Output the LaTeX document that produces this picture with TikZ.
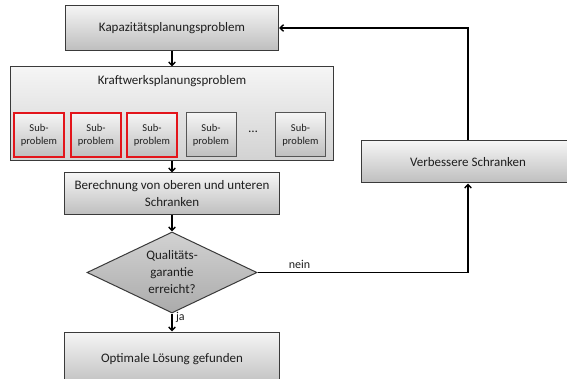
\documentclass[tikz,border=0pt]{standalone}
\usepackage{fontspec}
\setmainfont{Carlito}
\usetikzlibrary{arrows.meta}
\usetikzlibrary{shapes.geometric}
\definecolor{ln}{HTML}{3A3A3A}
\definecolor{sl}{HTML}{555555}
\definecolor{rd}{HTML}{E3151B}
\definecolor{tp}{HTML}{F5F5F5}
\definecolor{bt}{HTML}{BEBEBE}
\definecolor{lt}{HTML}{D2D2D2}
\definecolor{tx}{HTML}{1E1E1E}

\tikzset{
  box/.style={draw=ln, line width=1pt, top color=tp, bottom color=bt, text=tx, align=center, inner sep=2pt, font=\fontsize{13}{17}\selectfont},
  subbox/.style={draw=sl, line width=1pt, top color=tp, bottom color=bt, text=tx, align=center, minimum width=50, minimum height=44, inner sep=1pt, font=\fontsize{10.5}{13}\selectfont},
  redbox/.style={subbox, draw=rd, line width=1.3pt},
  flow/.style={draw=black, line width=1.4pt, -{Straight Barb[length=3.5pt,width=6.5pt]}}
}

\begin{document}
\begin{tikzpicture}[x=1pt, y=-1pt]
  \useasboundingbox (0,0) rectangle (567,379);

  \node[box, minimum width=213, minimum height=45] (kap) at (172,28) {Kapazitätsplanungsproblem};

  \node[box, top color=tp, bottom color=lt, minimum width=323, minimum height=94] (kw) at (172,114) {};
  \node[text=tx, font=\fontsize{13}{17}\selectfont] (kwt) at (172,81) {Kraftwerksplanungsproblem};
  \node[redbox] (s1) at (39,135) {Sub-\\problem};
  \node[redbox] (s2) at (96,135) {Sub-\\problem};
  \node[redbox] (s3) at (152,135) {Sub-\\problem};
  \node[subbox] (s4) at (211,135) {Sub-\\problem};
  \node[text=tx, font=\fontsize{13}{17}\selectfont] (dots) at (253,132) {\dots};
  \node[subbox] (s5) at (300.5,135) {Sub-\\problem};

  \node[box, minimum width=215, minimum height=42] (ber) at (172,194) {Berechnung von oberen und unteren\\Schranken};
  \node[diamond, draw=ln, line width=1pt, top color=lt, bottom color=bt!90!black, text=tx, align=center, inner sep=0pt, aspect=2.1, minimum width=170, minimum height=81, font=\fontsize{13}{17}\selectfont] (qual) at (172,272.5) {Qualitäts-\\garantie\\erreicht?};
  \node[box, minimum width=215, minimum height=55] (opt) at (172,359.5) {Optimale Lösung gefunden};
  \node[box, minimum width=214, minimum height=42] (verb) at (468,162) {Verbessere Schranken};

  \draw[flow] (kap) -- (kw);
  \draw[flow] (kw) -- (ber);
  \draw[flow] (ber) -- (qual);
  \draw[flow] (qual) -- node[right, pos=0.2, text=tx, font=\fontsize{12}{14}\selectfont] {ja} (opt);
  \draw[flow] (qual.east) -| node[above, pos=0.1, text=tx, font=\fontsize{12}{14}\selectfont] {nein} (verb.south);
  \draw[flow] (verb.north) |- (kap.east);
\end{tikzpicture}
\end{document}
